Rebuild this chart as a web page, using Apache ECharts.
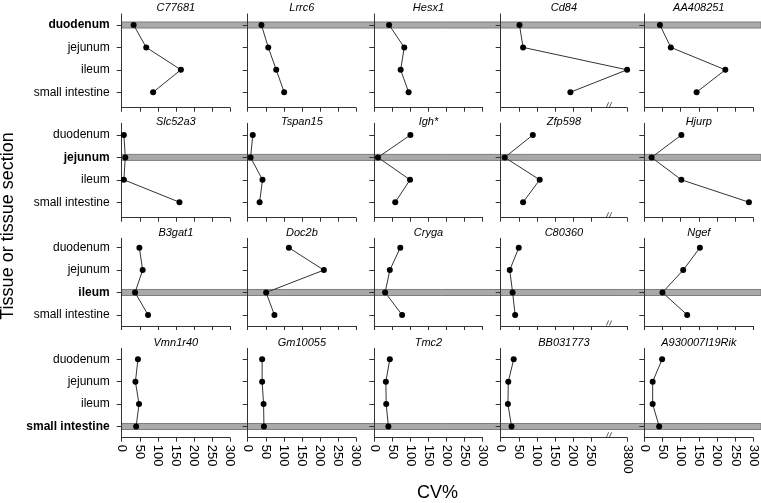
<!DOCTYPE html>
<html><head><meta charset="utf-8">
<script src="https://cdn.jsdelivr.net/npm/echarts@6/dist/echarts.min.js"></script>
<style>html,body{margin:0;padding:0;background:#fff}#c{width:761px;height:503px}</style>
</head><body><div id="c"></div>
<script>
// ---------------- data ----------------
const tissues = ['duodenum', 'jejunum', 'ileum', 'small intestine'];
const row1Genes = ['C77681', 'Lrrc6', 'Hesx1', 'Cd84', 'AA408251'];
const row2Genes = ['Slc52a3', 'Tspan15', 'Igh*', 'Zfp598', 'Hjurp'];
const row3Genes = ['B3gat1', 'Doc2b', 'Cryga', 'C80360', 'Ngef'];
const row4Genes = ['Vmn1r40', 'Gm10055', 'Tmc2', 'BB031773', 'A930007I19Rik'];
// CV% per gene, in tissue order (duodenum, jejunum, ileum, small intestine)
const row1CV = [[33, 68, 164, 87], [38, 57, 79, 101], [41, 83, 73, 95], [52, 62, 3800, 193], [43, 73, 223, 144]];
const row2CV = [[6, 10, 6, 160], [14, 8, 41, 33], [100, 10, 99, 58], [89, 11, 108, 62], [102, 20, 102, 288]];
const row3CV = [[49, 58, 37, 73], [114, 211, 51, 74], [72, 43, 30, 77], [50, 25, 33, 40], [153, 107, 50, 118]];
const row4CV = [[45, 38, 48, 40], [40, 40, 44, 45], [43, 32, 33, 39], [36, 21, 20, 30], [49, 23, 23, 41]];
const highlightedTissue = ['duodenum', 'jejunum', 'ileum', 'small intestine']; // one per panel row
const xTicks = [0, 50, 100, 150, 200, 250, 300];
const xTicksBroken = [0, 50, 100, 150, 200, 250, 3800];
const brokenColumn = 3;

// ---------------- layout ----------------
const FONT = "'Liberation Sans', Arial, sans-serif";
const colLeft = [121.7, 247.7, 374.3, 500.7, 644.3];
const colW = [108.3, 108.3, 108.3, 126.4, 109];
const rowTop = [14, 123.3, 238.3, 348.3];
const rowBottom = [107.7, 217.7, 326, 437.7];
const firstCatY = [25, 135, 247.7, 359.3];
const catStep = 22.4;
const titleY = [8, 122, 233, 343];

// axis break: values above 300 are drawn at the broken-axis end mark (350)
const BREAK_POS = 350;
const pos = v => (v <= 300 ? v : BREAK_POS);

const rowGenes = [row1Genes, row2Genes, row3Genes, row4Genes];
const rowCV = [row1CV, row2CV, row3CV, row4CV];

const grids = [], xAxes = [], yAxes = [], series = [], graphics = [];

for (let r = 0; r < 4; r++) {
  const h = rowBottom[r] - rowTop[r];
  const yMin = -(firstCatY[r] - rowTop[r]) / catStep;
  const yMax = yMin + h / catStep;
  const hl = tissues.indexOf(highlightedTissue[r]);

  // background band grid for the whole row
  const bi = grids.length;
  grids.push({ left: colLeft[0], right: 0, top: rowTop[r], height: h });
  xAxes.push({ gridIndex: bi, type: 'value', min: 0, max: 1, show: false });
  yAxes.push({ gridIndex: bi, type: 'value', inverse: true, min: yMin, max: yMax, show: false });
  series.push({
    type: 'line', xAxisIndex: bi, yAxisIndex: bi, data: [], z: 1, silent: true,
    markArea: {
      silent: true,
      itemStyle: { color: '#a9a9a9', borderColor: '#7d7d7d', borderWidth: 1 },
      data: [[{ yAxis: hl - 0.135 }, { yAxis: hl + 0.135 }]]
    }
  });

  for (let c = 0; c < 5; c++) {
    const idx = grids.length;
    const broken = c === brokenColumn;
    const ticks = broken ? xTicksBroken : xTicks;
    const tickPos = ticks.map(pos);
    grids.push({ left: colLeft[c], top: rowTop[r], width: colW[c], height: h });
    xAxes.push({
      gridIndex: idx, type: 'value', min: 0, max: broken ? BREAK_POS : 300, interval: 50, z: 2,
      axisLine: { show: true, onZero: false, lineStyle: { color: '#333', width: 1 } },
      axisTick: { show: true, length: 4, customValues: tickPos, lineStyle: { color: '#333' } },
      axisLabel: {
        show: r === 3, rotate: -90, margin: 7, fontSize: 13, color: '#000', fontFamily: FONT,
        customValues: tickPos,
        formatter: v => String(ticks[tickPos.indexOf(v)])
      },
      splitLine: { show: false }
    });
    yAxes.push({
      gridIndex: idx, type: 'value', inverse: true, min: yMin, max: yMax, z: 2,
      axisLine: { show: true, onZero: false, lineStyle: { color: '#333', width: 1 } },
      axisTick: { show: true, length: 5, customValues: [0, 1, 2, 3], lineStyle: { color: '#333' } },
      axisLabel: {
        show: c === 0, margin: 12, fontSize: 12, color: '#000', fontFamily: FONT,
        customValues: [0, 1, 2, 3],
        formatter: v => (v === hl ? '{b|' + tissues[v] + '}' : tissues[v]),
        rich: { b: { fontWeight: 'bold', fontSize: 12, color: '#000', fontFamily: FONT } }
      },
      splitLine: { show: false }
    });
    const s = {
      type: 'line', xAxisIndex: idx, yAxisIndex: idx, z: 3,
      data: rowCV[r][c].map((v, i) => [pos(v), i]),
      symbol: 'circle', symbolSize: 6, showSymbol: true,
      itemStyle: { color: '#000' },
      lineStyle: { color: '#333', width: 1 },
      silent: true
    };
    if (broken) {
      s.markPoint = {
        silent: true,
        symbol: 'path://M0,6 L2.2,0 L3,0 L0.8,6 Z M3,6 L5.2,0 L6,0 L3.8,6 Z',
        symbolSize: [6, 5], symbolOffset: [0, -3],
        itemStyle: { color: '#333' },
        label: { show: false },
        data: [{ coord: [300, yMax] }]
      };
    }
    series.push(s);
    graphics.push({
      type: 'text', x: colLeft[c] + colW[c] / 2, y: titleY[r], silent: true,
      style: {
        text: rowGenes[r][c], font: 'italic 11px ' + FONT, fill: '#000',
        align: 'center', verticalAlign: 'middle', textAlign: 'center', textVerticalAlign: 'middle'
      }
    });
  }
}

graphics.push({
  type: 'text', x: 8, y: 226, rotation: Math.PI / 2, silent: true,
  style: { text: 'Tissue or tissue section', font: '18px ' + FONT, fill: '#000',
    align: 'center', verticalAlign: 'middle', textAlign: 'center', textVerticalAlign: 'middle' }
});
graphics.push({
  type: 'text', x: 437.5, y: 493, silent: true,
  style: { text: 'CV%', font: '18px ' + FONT, fill: '#000',
    align: 'center', verticalAlign: 'middle', textAlign: 'center', textVerticalAlign: 'middle' }
});

const chart = echarts.init(document.getElementById('c'), null, { renderer: 'canvas' });
chart.setOption({
  animation: false,
  backgroundColor: '#fff',
  textStyle: { fontFamily: FONT },
  grid: grids, xAxis: xAxes, yAxis: yAxes, series: series, graphic: graphics
});
</script>
</body></html>
